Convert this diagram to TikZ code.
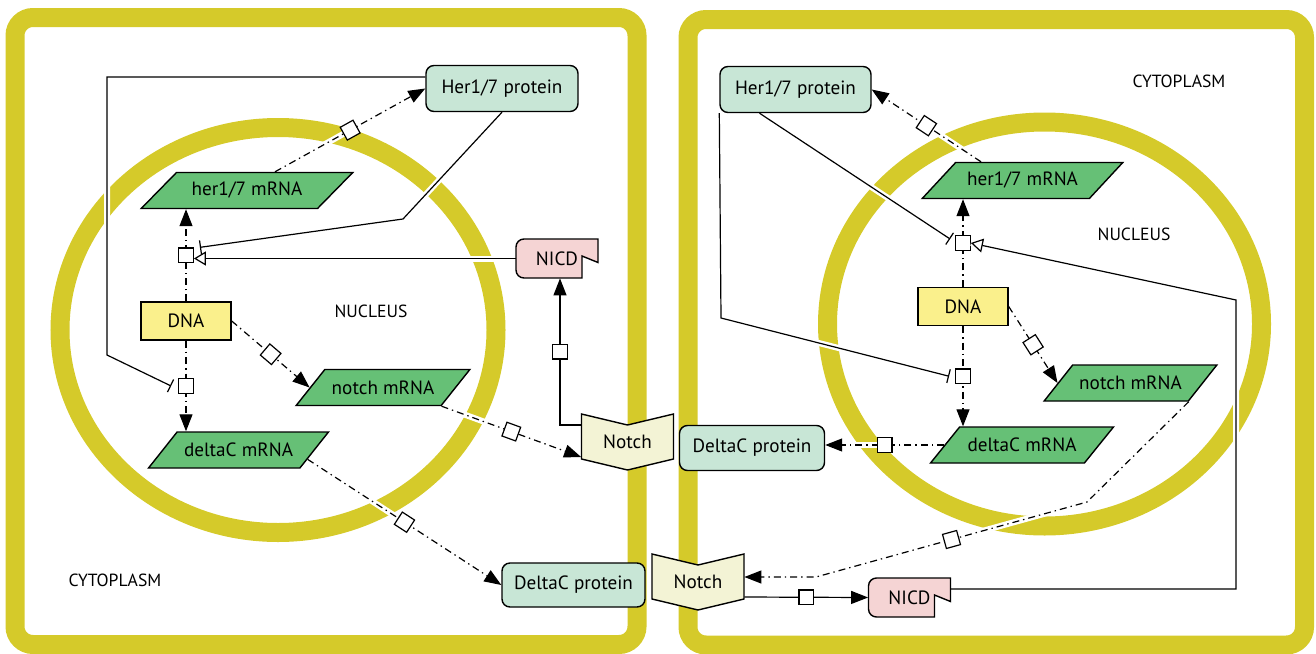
\documentclass[tikz,border=0pt]{standalone}
\usepackage{fontspec}
\setmainfont{PT Sans}
\usetikzlibrary{arrows.meta,shapes.geometric,backgrounds,calc}
\definecolor{cellyellow}{RGB}{213,202,42}
\definecolor{protfill}{RGB}{200,230,214}
\definecolor{mrnafill}{RGB}{102,192,118}
\definecolor{dnafill}{RGB}{250,240,140}
\definecolor{nicdfill}{RGB}{245,212,212}
\definecolor{notchfill}{RGB}{243,243,213}
\pgfdeclarelayer{front}
\pgfsetlayers{background,main,front}
\tikzset{
  membrane/.style={draw=cellyellow, line width=9.5pt},
  glyphfont/.style={font=\fontsize{9.6pt}{11pt}\selectfont},
  label/.style={font=\fontsize{8.8pt}{10pt}\selectfont},
  protein/.style={glyphfont, draw, line width=.7pt, fill=protfill, rounded corners=4pt, minimum width=76pt, minimum height=23pt},
  mrna/.style={glyphfont, trapezium, trapezium left angle=45, trapezium right angle=135, trapezium stretches=true, inner xsep=2pt, draw, line width=.7pt, fill=mrnafill, minimum height=18pt, minimum width=#1},
  mrna/.default=88pt,
  dna/.style={glyphfont, draw, line width=.7pt, fill=dnafill, minimum width=45pt, minimum height=19pt},
  conn/.style={line width=.6pt, preaction={draw=white, line width=3pt, solid, -}},
  dd/.style={dash pattern=on 3.5pt off 2pt on .7pt off 2pt},
  proc/.style={draw, solid, fill=white, line width=.6pt, minimum size=7.3pt, inner sep=0pt},
  prod/.style={-{Triangle[length=8.5pt, width=6.5pt]}},
  stim/.style={-{Triangle[open, length=6pt, width=7pt]}},
  inhib/.style={-{Bar[width=7pt]}},
}
% glyphs drawn as a path plus a named node on top
\newcommand{\notchglyph}[3]{%
  \filldraw[draw=black, line width=.7pt, fill=notchfill, shift={(#2)}]
    (-46,-28) -- (0,-17) -- (46,-28) -- (46,17) -- (0,28) -- (-46,17) -- cycle;
  \node[glyphfont, minimum width=46pt, minimum height=22pt, inner sep=0pt] (#1) at (#2) {#3};}
\newcommand{\nicdglyph}[3]{%
  \filldraw[draw=black, line width=.7pt, fill=nicdfill, shift={(#2)}]
    (25,19.5) [rounded corners=4pt] -- (-41,19.5) -- (-41,-19.5) [sharp corners] -- (41,-19.5) -- (41,4) -- (25,-2.5) -- cycle;
  \node[glyphfont, minimum width=41pt, minimum height=19.5pt, inner sep=0pt] (#1) at (#2) {#3};}
\begin{document}
\begin{tikzpicture}[x=.5pt, y=-.5pt]
\useasboundingbox (0,0) rectangle (1316,653);
% cells and nuclei
\begin{scope}[on background layer]
  \draw[membrane, rounded corners=9pt] (15,17.5) rectangle (637,644.5);
  \draw[membrane, rounded corners=9pt] (688,19.5) rectangle (1304.5,645);
  \draw[membrane] (278,330) ellipse [x radius=109pt, y radius=101.25pt];
  \draw[membrane] (1044.5,324) ellipse [x radius=108.5pt, y radius=101pt];
\end{scope}
\begin{pgfonlayer}{front}
  % left cell
  \node[protein] (protL) at (502,88.5) {Her1/7 protein};
  \node[mrna=106pt] (herL) at (247,190.5) {her1/7 mRNA};
  \node[dna] (dnaL) at (186,321) {DNA};
  \node[mrna=87pt] (nmL) at (383,387.5) {notch mRNA};
  \node[mrna=90.5pt] (dcL) at (238.5,450) {deltaC mRNA};
  \node[protein, minimum width=71.5pt, minimum height=22pt] (dpL) at (573.5,585) {DeltaC protein};
  \notchglyph{notchL}{627.5,442}{Notch}
  \nicdglyph{nicdL}{557,258.5}{NICD}
  \node[label] (nucL) at (371,311) {NUCLEUS};
  \node[label] (cytL) at (115,580) {CYTOPLASM};
  % right cell
  \node[protein, minimum width=75.5pt] (protR) at (795.5,89.5) {Her1/7 protein};
  \node[mrna=100.5pt] (herR) at (1022.5,180.5) {her1/7 mRNA};
  \node[dna] (dnaR) at (963,306.5) {DNA};
  \node[mrna=86.5pt] (nmR) at (1130.5,383) {notch mRNA};
  \node[mrna=92pt] (dcR) at (1022,445) {deltaC mRNA};
  \node[protein, minimum width=72.5pt, minimum height=22.5pt] (dpR) at (752,448) {DeltaC protein};
  \notchglyph{notchR}{698,582}{Notch}
  \nicdglyph{nicdR}{909.5,597.5}{NICD}
  \node[label] (nucR) at (1134,234) {NUCLEUS};
  \node[label] (cytR) at (1179,81.5) {CYTOPLASM};
\end{pgfonlayer}
% left cell reactions
\draw[conn, dd, prod] ([xshift=14pt]herL.north) -- node[proc, sloped] (pPL) {} (protL.west);
\draw[conn, dd, prod] (dnaL.north) -- node[proc] (pHL) {} (dnaL.north |- herL.south);
\draw[conn, dd, prod] (dnaL.south) -- node[proc] (pDL) {} (dnaL.south |- dcL.north);
\draw[conn, dd, prod] (dnaL.east) -- node[proc, sloped] (pNL) {} (nmL.west);
\draw[conn, dd, prod] (nmL.bottom right corner) -- node[proc, sloped] (pTL) {} ([yshift=-7.5pt]notchL.west);
\draw[conn, dd, prod] ($(dcL.bottom right corner)!.25!(dcL.top right corner)$) -- node[proc, sloped] (pXL) {} (dpL.west);
\draw[conn, prod] ([yshift=8.5pt]notchL.west) -| node[proc, pos=.75] (pCL) {} ([xshift=1.5pt]nicdL.south);
\draw[conn, inhib] (protL.south) -- (403,219) -- ([xshift=3pt]pHL.north east);
\draw[conn, stim] (nicdL.west) -- (nicdL.west -| pHL.east);
\draw[conn, inhib] ([yshift=5.75pt]protL.west) -- (107,77) -- (107,355) -- ([xshift=-3.5pt]pDL.west);
% right cell reactions
\draw[conn, dd, prod] ([xshift=-20.75pt]herR.north) -- node[proc, sloped] (pPR) {} (protR.east);
\draw[conn, dd, prod] (dnaR.north) -- node[proc] (pHR) {} (dnaR.north |- herR.south);
\draw[conn, dd, prod] (dnaR.south) -- node[proc] (pDR) {} (dnaR.south |- dcR.north);
\draw[conn, dd, prod] (dnaR.east) -- node[proc, sloped] (pNR) {} (nmR.west);
\draw[conn, dd, prod] (dcR.west) -- node[proc] (pXR) {} (dcR.west -| dpR.east);
\draw[conn, dd, prod] (nmR.bottom right corner) -- (1087,502) -- node[proc, sloped] (pTR) {} (816,577) -- ([yshift=2.5pt]notchR.east);
\draw[conn, prod] ([yshift=-7.5pt]notchR.east) -- node[proc] (pCR) {} (nicdR.west);
\draw[conn, inhib] ([xshift=-18pt]protR.south) -- ([xshift=-2.5pt,yshift=2pt]pHR.west);
\draw[conn, stim] ([yshift=4.25pt]nicdR.east) -| (1236,300) -- (pHR.east);
\draw[conn, inhib] (protR.south west) -- (721,318) -- ([xshift=-3pt]pDR.west);
\end{tikzpicture}
\end{document}
